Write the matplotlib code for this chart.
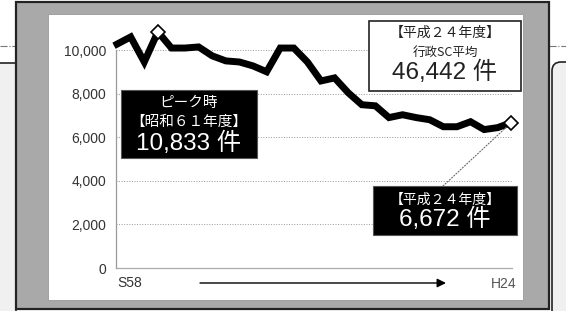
import matplotlib.pyplot as plt
from matplotlib.patches import Rectangle, FancyBboxPatch
from matplotlib.lines import Line2D
from matplotlib.transforms import IdentityTransform

plt.rcParams['font.family'] = ['Noto Sans CJK JP', 'DejaVu Sans']
MIX = ['Liberation Sans', 'Noto Sans CJK JP']

# 相談件数の推移 S58(1983) - H24(2012)
years = list(range(1983, 2013))
counts = [10270, 10600, 9450, 10833, 10090, 10090, 10140, 9730, 9500, 9450,
          9270, 9000, 10090, 10090, 9450, 8580, 8720, 8040, 7490, 7440,
          6900, 7030, 6900, 6800, 6480, 6480, 6710, 6350, 6440, 6672]
yticks = [0, 2000, 4000, 6000, 8000, 10000]
ytick_labels = ['0', '2,000', '4,000', '6,000', '8,000', '10,000']
x_start, x_end = 'S58', 'H24'

W, H = 566, 311
fig = plt.figure(figsize=(W / 100, H / 100), dpi=100)
fig.patch.set_facecolor('white')
px = IdentityTransform()


def rect(x0, y0, x1, y1, **kw):
    # pixel coords measured from the top-left
    r = Rectangle((x0, H - y1), x1 - x0, y1 - y0, transform=px, **kw)
    fig.patches.append(r)
    return r


def ftext(x, y, s, **kw):
    fig.text(x / W, 1 - y / H, s, **kw)


# page background bits outside the frame
rect(-2, 63, 16, 320, facecolor='#f0f0f0', edgecolor='#222', lw=1.2, zorder=-9)
fig.patches.append(FancyBboxPatch((552, -10), 40, H - 62 + 10, transform=px,
                                  boxstyle='round,pad=0,rounding_size=9',
                                  facecolor='#f0f0f0', edgecolor='#222', lw=1.2, zorder=-9))
fig.lines.append(Line2D([0, 16], [H - 46, H - 46], transform=px, color='#777',
                        lw=0.8, linestyle='-.', zorder=-9))
fig.lines.append(Line2D([549, 566], [H - 46, H - 46], transform=px, color='#777',
                        lw=0.8, linestyle='-.', zorder=-9))

# frame
rect(16, 2, 549, 309, facecolor='#a9a9a9', edgecolor='#222', lw=1.6, zorder=-8)
rect(48, 14, 523, 300, facecolor='white', edgecolor='#999', lw=0.6, zorder=-7)

ax = fig.add_axes([116 / W, 1 - 268 / H, (512 - 116) / W, (268 - 50) / H])
ax.set_facecolor('none')
ax.set_zorder(2)

x = list(range(len(years)))
ax.plot(x, counts, color='black', lw=5, solid_joinstyle='miter', clip_on=False, zorder=3)
for i in (3, len(years) - 1):
    ax.plot(i, counts[i], marker='D', ms=7.5, mfc='white', mec='black', mew=1.2,
            clip_on=False, zorder=4)

ax.set_xlim(-0.08, 29.05)
ax.set_ylim(0, 10000)
ax.set_yticks(yticks)
ax.set_yticklabels(ytick_labels, color='#333', fontsize=10, family=['Liberation Sans'])
ax.set_xticks([])
ax.tick_params(axis='y', length=0, pad=7)
ax.grid(axis='y', linestyle=':', color='#999', lw=0.7)
for s in ('top', 'right'):
    ax.spines[s].set_visible(False)
ax.spines['left'].set_color('#999')
ax.spines['bottom'].set_color('#aaa')
ax.spines['left'].set_linewidth(0.9)
ax.spines['bottom'].set_linewidth(0.9)

ftext(117, 283, x_start, ha='left', va='center', fontsize=10, color='#333',
      family=['Liberation Sans'])
ftext(517, 284, x_end, ha='right', va='center', fontsize=10, color='#555',
      family=['Liberation Sans'])
ax.annotate('', xy=(446, H - 283), xytext=(200, H - 283),
            xycoords='figure pixels', textcoords='figure pixels',
            arrowprops=dict(arrowstyle='-|>', color='black', lw=1, mutation_scale=13,
                            shrinkA=0, shrinkB=0))

# connectors
ax.annotate('', xy=(3, counts[3]), xytext=(177, H - 90), textcoords='figure pixels',
            arrowprops=dict(arrowstyle='-', linestyle=':', color='#666', lw=0.8,
                            shrinkA=0, shrinkB=4))
ax.annotate('', xy=(29, counts[-1]), xytext=(443, H - 186), textcoords='figure pixels',
            arrowprops=dict(arrowstyle='-', linestyle=':', color='#666', lw=0.8,
                            shrinkA=0, shrinkB=4))

# peak box
rect(121, 90, 257, 158, facecolor='black', edgecolor='#555', lw=0.8, zorder=5)
ftext(189, 103, 'ピーク時', ha='center', va='center', fontsize=10.5, color='white', zorder=6)
ftext(189, 122, '【昭和６１年度】', ha='center', va='center', fontsize=10.5, color='white', zorder=6)
ftext(189, 143, '10,833 件', ha='center', va='center', fontsize=17.5, color='white',
      family=MIX, zorder=6)

# average box
rect(369, 21, 521, 91, facecolor='white', edgecolor='#222', lw=1.2, zorder=5)
ftext(445, 33, '【平成２４年度】', ha='center', va='center', fontsize=10, color='#222', zorder=6)
ftext(445, 52, '行政SC平均', ha='center', va='center', fontsize=9, color='#222', zorder=6)
ftext(445, 72, '46,442 件', ha='center', va='center', fontsize=17.5, color='#222',
      family=MIX, zorder=6)

# latest box
rect(373, 186, 517, 235, facecolor='black', edgecolor='#555', lw=0.8, zorder=5)
ftext(445, 200, '【平成２４年度】', ha='center', va='center', fontsize=10, color='white', zorder=6)
ftext(445, 219, '6,672 件', ha='center', va='center', fontsize=17.5, color='white',
      family=MIX, zorder=6)

fig.savefig('out.png', dpi=100)
